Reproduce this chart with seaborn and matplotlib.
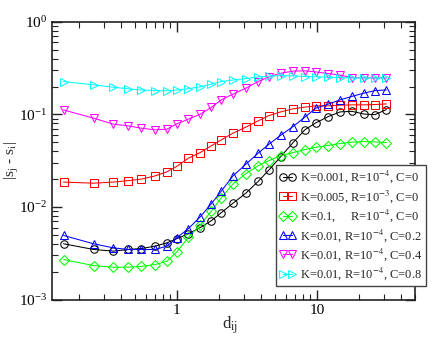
import numpy as np
import pandas as pd
import matplotlib
matplotlib.use("Agg")
import matplotlib.pyplot as plt
import matplotlib.ticker as mticker
import seaborn as sns

# distances shared by all curves
d_ij = [0.155, 0.254, 0.352, 0.451, 0.556, 0.70, 0.849, 1.0, 1.21, 1.47, 1.76,
        2.08, 2.52, 3.11, 3.81, 4.56, 5.53, 6.77, 8.21, 9.84, 12.0, 14.7,
        17.9, 21.7, 26.0, 31.4]

k001_r4_c0 = [0.00401, 0.00348, 0.00334, 0.00348, 0.00356, 0.00378, 0.00410,
              0.00455, 0.00514, 0.00600, 0.00710, 0.00870, 0.0110, 0.0141,
              0.0189, 0.0252, 0.0351, 0.0497, 0.0682, 0.0812, 0.0945, 0.1067,
              0.108, 0.101, 0.0995, 0.113]
k005_r3_c0 = [0.0186, 0.0181, 0.0186, 0.0193, 0.0200, 0.0217, 0.0240, 0.0275,
              0.0337, 0.0388, 0.0458, 0.0532, 0.0628, 0.0729, 0.0853, 0.0973,
              0.1067, 0.115, 0.120, 0.124, 0.124, 0.126, 0.127, 0.127, 0.128,
              0.130]
k01_r4_c0 = [0.00271, 0.00233, 0.00224, 0.00224, 0.00228, 0.00239, 0.00260,
             0.00328, 0.00470, 0.00640, 0.00900, 0.0126, 0.0178, 0.0229,
             0.0279, 0.0318, 0.0358, 0.0388, 0.0418, 0.0443, 0.0462, 0.0485,
             0.0502, 0.0510, 0.0505, 0.0497]
k001_r4_c02 = [0.00493, 0.00401, 0.00362, 0.00348, 0.00348, 0.00348, 0.00378,
               0.00465, 0.00585, 0.00785, 0.0108, 0.0149, 0.0217, 0.0290,
               0.0382, 0.0478, 0.0598, 0.0741, 0.0935, 0.117, 0.129, 0.144,
               0.157, 0.170, 0.181, 0.184]
k001_r4_c04 = [0.112, 0.0912, 0.0786, 0.0753, 0.0711, 0.0682, 0.0694, 0.0792,
               0.0890, 0.1007, 0.119, 0.144, 0.166, 0.192, 0.227, 0.255,
               0.279, 0.294, 0.296, 0.288, 0.277, 0.266, 0.250, 0.248, 0.248,
               0.248]
k001_r4_c08 = [0.227, 0.209, 0.197, 0.189, 0.184, 0.181, 0.180, 0.184, 0.190,
               0.199, 0.212, 0.227, 0.236, 0.244, 0.255, 0.259, 0.263, 0.261,
               0.257, 0.255, 0.253, 0.250, 0.248, 0.248, 0.248, 0.248]

labels = [r"K=0.001, R=10$^{-4}$, C=0",
          r"K=0.005, R=10$^{-3}$, C=0",
          r"K=0.1,     R=10$^{-4}$, C=0",
          r"K=0.01, R=10$^{-4}$, C=0.2",
          r"K=0.01, R=10$^{-4}$, C=0.4",
          r"K=0.01, R=10$^{-4}$, C=0.8"]
series = [k001_r4_c0, k005_r3_c0, k01_r4_c0, k001_r4_c02, k001_r4_c04, k001_r4_c08]
colors = ["#000000", "#ff0000", "#00ff00", "#0000ff", "#ff00ff", "#00ffff"]
markers = ["o", "s", "D", "^", "v", ">"]

sns.set_style("ticks")
plt.rcParams["font.family"] = ["Liberation Serif", "DejaVu Serif"]
plt.rcParams["mathtext.fontset"] = "stix"
plt.rcParams["xtick.direction"] = "in"
plt.rcParams["ytick.direction"] = "in"

fig = plt.figure(figsize=(4.36, 3.37), dpi=100)
ax = fig.add_axes([0.119, 0.111, 0.832, 0.824])

for lab, vals, col, mk in zip(labels, series, colors, markers):
    df = pd.DataFrame({"d": d_ij, "s": vals})
    ms = 4.6 if mk == "D" else 5.4
    sns.lineplot(data=df, x="d", y="s", ax=ax, color=col, marker=mk,
                 markersize=ms, markerfacecolor="none", markeredgecolor=col,
                 markeredgewidth=0.75, linewidth=0.75, label=lab)

ax.set_xscale("log")
ax.set_yscale("log")
ax.set_xlim(0.128, 50)
ax.set_ylim(1e-3, 1)

for s in ax.spines.values():
    s.set_linewidth(1.2)
    s.set_color("#222222")
ax.tick_params(which="both", top=True, right=True, labelsize=11, colors="#222222",
               labelcolor="black")
ax.tick_params(which="major", length=7, width=1.0)
ax.tick_params(which="minor", length=4, width=0.8)
ax.xaxis.set_major_formatter(mticker.FuncFormatter(
    lambda v, p: "%g" % v if v >= 1 else ""))
ax.yaxis.set_minor_locator(mticker.LogLocator(base=10, subs=np.arange(2, 10)))
ax.xaxis.set_minor_locator(mticker.LogLocator(base=10, subs=np.arange(2, 10)))
ax.yaxis.set_minor_formatter(mticker.NullFormatter())
ax.xaxis.set_minor_formatter(mticker.NullFormatter())

ax.set_xlabel(r"d$_{\rm ij}$", fontsize=12)
ax.set_ylabel(r"|s$_{\rm j}$ - s$_{\rm i}$|", fontsize=11)
ax.xaxis.set_label_coords(0.49, -0.055)
ax.yaxis.set_label_coords(-0.085, 0.5)

leg = ax.legend(loc="lower left", bbox_to_anchor=(0.633, 0.151),
                bbox_transform=fig.transFigure, fontsize=9, numpoints=2,
                handlelength=1.3, handletextpad=0.35, borderaxespad=0,
                borderpad=0.3, labelspacing=0.22, fancybox=False,
                framealpha=1, edgecolor="#444444")
leg.get_frame().set_linewidth(1.0)

fig.savefig("out.png", dpi=100)
